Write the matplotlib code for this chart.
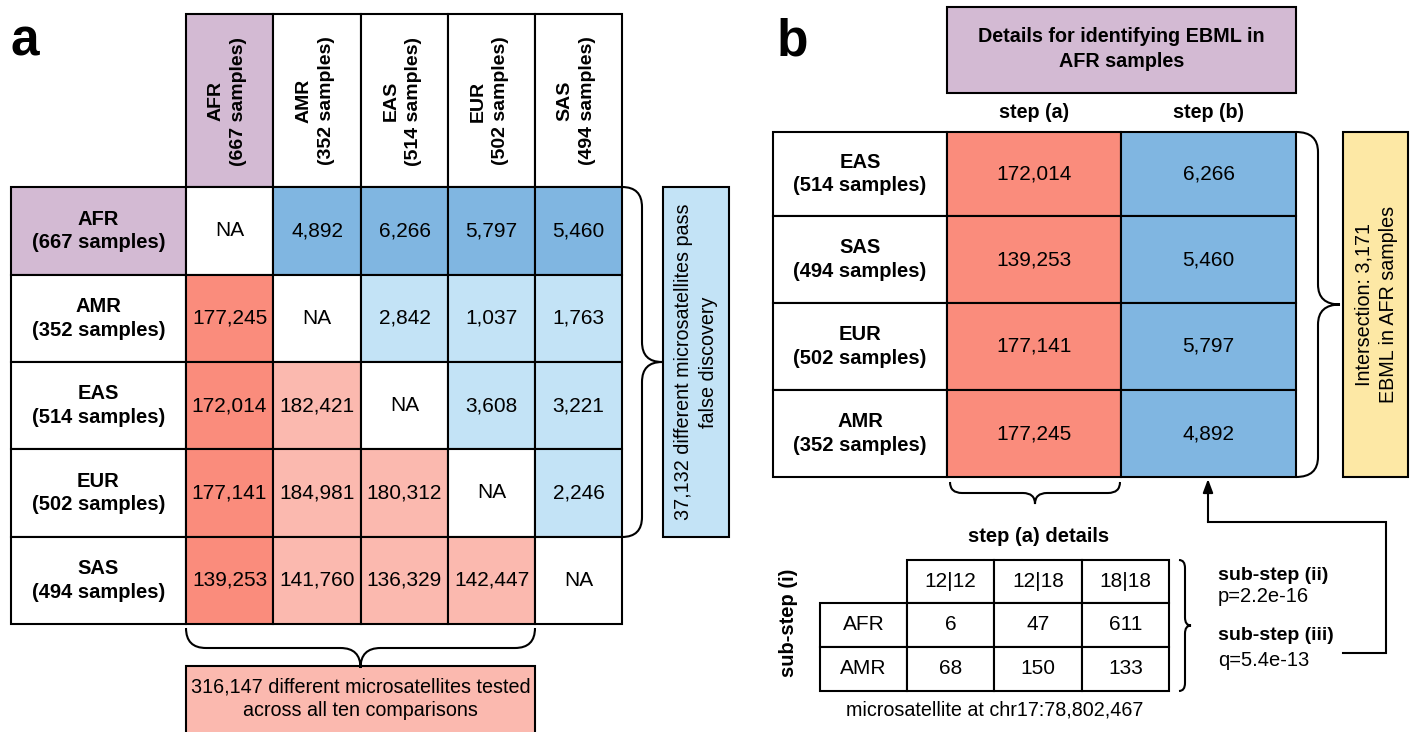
import matplotlib
matplotlib.use("Agg")
import matplotlib.pyplot as plt
from matplotlib.path import Path
from matplotlib.patches import PathPatch, Rectangle

plt.rcParams['font.family'] = ['Liberation Sans', 'DejaVu Sans']

# ---------------- data ----------------
pops = ["AFR", "AMR", "EAS", "EUR", "SAS"]
samples = [667, 352, 514, 502, 494]
# rows x columns, None = NA
matrix = [
    [None, 4892, 6266, 5797, 5460],
    [177245, None, 2842, 1037, 1763],
    [172014, 182421, None, 3608, 3221],
    [177141, 184981, 180312, None, 2246],
    [139253, 141760, 136329, 142447, None],
]
total_tested = 316147
total_pass = 37132

b_pops = ["EAS", "SAS", "EUR", "AMR"]
b_samples = [514, 494, 502, 352]
step_a = [172014, 139253, 177141, 177245]
step_b = [6266, 5460, 5797, 4892]
intersection = 3171

genotypes = ["12|12", "12|18", "18|18"]
detail_pops = ["AFR", "AMR"]
detail_counts = [[6, 47, 611], [68, 150, 133]]
p_value = "2.2e-16"
q_value = "5.4e-13"
locus = "chr17:78,802,467"

# ---------------- style ----------------
PURPLE = "#D3BAD3"
DBLUE = "#80B6E1"
LBLUE = "#C3E3F6"
SALMON = "#FA8C7C"
PINK = "#FBB9AF"
YELLOW = "#FDE8A5"
LW = 1.5
FS_VAL = 15
FS_LAB = 14.5
FS_HEAD = 14
FS_TXT = 14.2

fig = plt.figure(figsize=(14.11, 7.32), dpi=100)
ax = fig.add_axes([0, 0, 1, 1])
ax.set_xlim(0, 1411)
ax.set_ylim(732, 0)
ax.axis("off")


def cell(x0, y0, x1, y1, fc="white", lw=LW, z=2):
    ax.add_patch(Rectangle((x0, y0), x1 - x0, y1 - y0, facecolor=fc,
                           edgecolor="black", linewidth=lw, zorder=z))


def fmt(v):
    return f"{v:,}"


def brace_right(x, y0, y1, w, r=18):
    xm = x + w / 2
    ym = (y0 + y1) / 2
    verts = [(x, y0), (xm, y0), (xm, y0 + r), (xm, ym - r),
             (xm, ym), (x + w, ym), (xm, ym), (xm, ym + r),
             (xm, y1 - r), (xm, y1), (x, y1)]
    codes = [Path.MOVETO, Path.CURVE3, Path.CURVE3, Path.LINETO,
             Path.CURVE3, Path.CURVE3, Path.CURVE3, Path.CURVE3,
             Path.LINETO, Path.CURVE3, Path.CURVE3]
    ax.add_patch(PathPatch(Path(verts, codes), facecolor="none",
                           edgecolor="black", linewidth=LW, zorder=3))


def brace_down(y, x0, x1, d, r=18):
    ym = y + d / 2
    xm = (x0 + x1) / 2
    verts = [(x0, y), (x0, ym), (x0 + r, ym), (xm - r, ym),
             (xm, ym), (xm, y + d), (xm, ym), (xm + r, ym),
             (x1 - r, ym), (x1, ym), (x1, y)]
    codes = [Path.MOVETO, Path.CURVE3, Path.CURVE3, Path.LINETO,
             Path.CURVE3, Path.CURVE3, Path.CURVE3, Path.CURVE3,
             Path.LINETO, Path.CURVE3, Path.CURVE3]
    ax.add_patch(PathPatch(Path(verts, codes), facecolor="none",
                           edgecolor="black", linewidth=LW, zorder=3))


# ---------------- panel a ----------------
ax.text(25, 42, "a", fontsize=37, fontweight="bold", ha="center", va="center")

xs = [186, 273, 361, 448, 535, 622]
ys = [187, 275, 362, 449, 537, 624]
lab_x0 = 11
head_y0 = 14

for j, (p, s) in enumerate(zip(pops, samples)):
    fc = PURPLE if j == 0 else "white"
    cell(xs[j], head_y0, xs[j + 1], ys[0], fc)
    ax.text((xs[j] + xs[j + 1]) / 2 - 2, 101,
            f"{p}\n({s} samples)", rotation=90, ha="center", va="center",
            multialignment="center", fontsize=FS_HEAD, fontweight="bold",
            linespacing=1.45, zorder=4)

for i, (p, s) in enumerate(zip(pops, samples)):
    fc = PURPLE if i == 0 else "white"
    cell(lab_x0, ys[i], xs[0], ys[i + 1], fc)
    ax.text((lab_x0 + xs[0]) / 2, (ys[i] + ys[i + 1]) / 2,
            f"{p}\n({s} samples)", ha="center", va="center",
            multialignment="center", fontsize=FS_LAB, fontweight="bold",
            linespacing=1.3, zorder=4)
    for j in range(len(pops)):
        v = matrix[i][j]
        if v is None:
            fc, t = "white", "NA"
        elif j > i:
            fc, t = (DBLUE if i == 0 else LBLUE), fmt(v)
        else:
            fc, t = (SALMON if j == 0 else PINK), fmt(v)
        cell(xs[j], ys[i], xs[j + 1], ys[i + 1], fc)
        ax.text((xs[j] + xs[j + 1]) / 2, (ys[i] + ys[i + 1]) / 2, t,
                ha="center", va="center", fontsize=FS_VAL, zorder=4)

# right brace + blue box
brace_right(xs[-1], ys[0], ys[4], 40, r=20)
cell(663, ys[0], 729, ys[4], LBLUE)
ax.text(696, (ys[0] + ys[4]) / 2,
        f"{fmt(total_pass)} different microsatellites pass\nfalse discovery",
        rotation=90, ha="center", va="center", multialignment="center",
        fontsize=FS_TXT, linespacing=1.35, zorder=4)

# bottom brace + pink box
brace_down(ys[-1] + 4, xs[0], xs[4], 40, r=20)
cell(xs[0], 666, xs[4], 740, PINK)
ax.text((xs[0] + xs[4]) / 2, 699,
        f"{fmt(total_tested)} different microsatellites tested\nacross all ten comparisons",
        ha="center", va="center", multialignment="center", fontsize=FS_TXT,
        linespacing=1.3, zorder=4)

# ---------------- panel b ----------------
ax.text(792, 42, "b", fontsize=37, fontweight="bold", ha="center", va="center")

bx = [773, 947, 1121, 1296]
by = [132, 216, 303, 390, 477]

cell(bx[1], 7, bx[3], 93, PURPLE)
ax.text((bx[1] + bx[3]) / 2, 49, "Details for identifying EBML in\nAFR samples",
        ha="center", va="center", multialignment="center", fontsize=FS_TXT,
        fontweight="bold", linespacing=1.4, zorder=4)
ax.text((bx[1] + bx[2]) / 2, 112, "step (a)", ha="center", va="center",
        fontsize=FS_TXT, fontweight="bold")
ax.text((bx[2] + bx[3]) / 2, 112, "step (b)", ha="center", va="center",
        fontsize=FS_TXT, fontweight="bold")

for i, (p, s) in enumerate(zip(b_pops, b_samples)):
    cell(bx[0], by[i], bx[1], by[i + 1], "white")
    ax.text((bx[0] + bx[1]) / 2, (by[i] + by[i + 1]) / 2, f"{p}\n({s} samples)",
            ha="center", va="center", multialignment="center", fontsize=FS_LAB,
            fontweight="bold", linespacing=1.3, zorder=4)
    cell(bx[1], by[i], bx[2], by[i + 1], SALMON)
    ax.text((bx[1] + bx[2]) / 2, (by[i] + by[i + 1]) / 2, fmt(step_a[i]),
            ha="center", va="center", fontsize=FS_VAL, zorder=4)
    cell(bx[2], by[i], bx[3], by[i + 1], DBLUE)
    ax.text((bx[2] + bx[3]) / 2, (by[i] + by[i + 1]) / 2, fmt(step_b[i]),
            ha="center", va="center", fontsize=FS_VAL, zorder=4)

brace_right(bx[3], by[0], by[-1], 44, r=20)
cell(1343, by[0], 1408, by[-1], YELLOW)
ax.text(1376, (by[0] + by[-1]) / 2,
        f"Intersection: {fmt(intersection)}\nEBML in AFR samples",
        rotation=90, ha="center", va="center", multialignment="center",
        fontsize=FS_TXT, linespacing=1.35, zorder=4)

brace_down(by[-1] + 5, bx[1] + 3, bx[2] - 1, 22, r=12)

# arrow path
ax.plot([1343, 1386, 1386, 1208], [653, 653, 522, 522], color="black",
        lw=LW, solid_joinstyle="miter", zorder=3)
ax.annotate("", xy=(1208, 479), xytext=(1208, 522),
            arrowprops=dict(arrowstyle="-|>,head_length=0.8,head_width=0.3",
                            color="black", lw=LW, shrinkA=0, shrinkB=0))

# small table
ax.text(1039, 537, "step (a) details", ha="center", va="center",
        fontsize=14.5, fontweight="bold")
sx = [820, 907, 994, 1082, 1169]
sy = [560, 603, 647, 691]
for j, g in enumerate(genotypes):
    cell(sx[j + 1], sy[0], sx[j + 2], sy[1], "white")
    ax.text((sx[j + 1] + sx[j + 2]) / 2, (sy[0] + sy[1]) / 2, g,
            ha="center", va="center", fontsize=FS_VAL, zorder=4)
for i, p in enumerate(detail_pops):
    cell(sx[0], sy[i + 1], sx[1], sy[i + 2], "white")
    ax.text((sx[0] + sx[1]) / 2, (sy[i + 1] + sy[i + 2]) / 2, p,
            ha="center", va="center", fontsize=FS_VAL, zorder=4)
    for j in range(len(genotypes)):
        cell(sx[j + 1], sy[i + 1], sx[j + 2], sy[i + 2], "white")
        ax.text((sx[j + 1] + sx[j + 2]) / 2, (sy[i + 1] + sy[i + 2]) / 2,
                str(detail_counts[i][j]), ha="center", va="center",
                fontsize=FS_VAL, zorder=4)

ax.text(789, 623, "sub-step (i)", rotation=90, ha="center", va="center",
        fontsize=14.5, fontweight="bold")
ax.text((sx[0] + sx[-1]) / 2, 710, f"microsatellite at {locus}",
        ha="center", va="center", fontsize=FS_TXT)

brace_right(1179, sy[0], sy[-1], 12, r=8)
ax.text(1218, 575, "sub-step (ii)", ha="left", va="center", fontsize=14,
        fontweight="bold")
ax.text(1218, 597, f"p={p_value}", ha="left", va="center", fontsize=14.5)
ax.text(1218, 636, "sub-step (iii)", ha="left", va="center", fontsize=14,
        fontweight="bold")
ax.text(1218, 660, f"q={q_value}", ha="left", va="center", fontsize=14.5)

fig.savefig("out.png", dpi=100)
